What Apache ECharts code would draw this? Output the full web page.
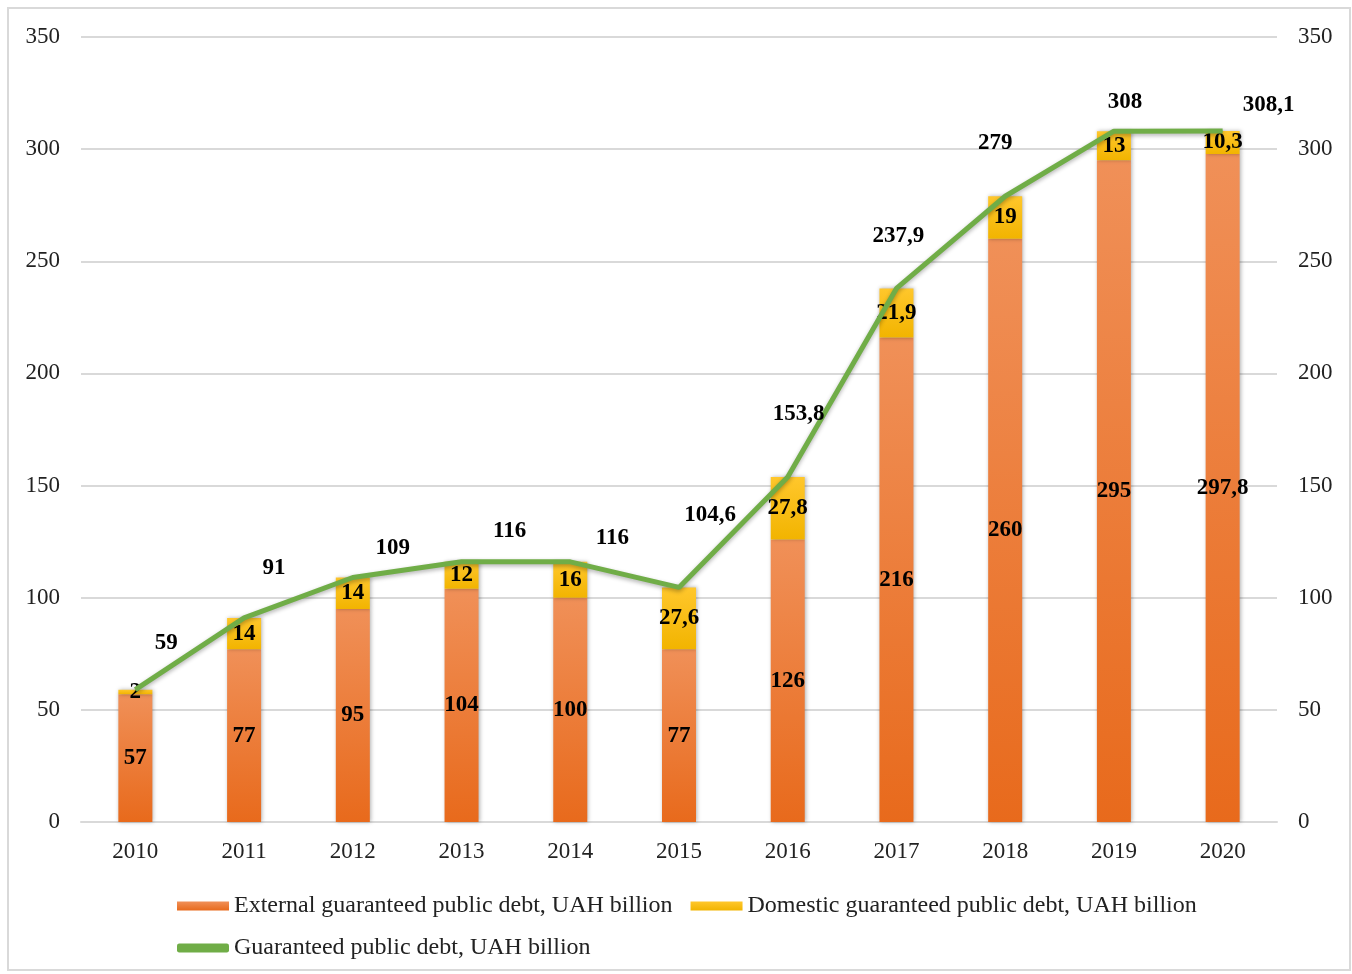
<!DOCTYPE html>
<html>
<head>
<meta charset="utf-8">
<script src="https://cdn.jsdelivr.net/npm/echarts@6/dist/echarts.min.js"></script>
<style>
  html, body { margin: 0; padding: 0; background: #fff; }
  #chart { width: 1352px; height: 974px; }
</style>
</head>
<body>
<div id="chart"></div>
<script>
const years = ['2010', '2011', '2012', '2013', '2014', '2015', '2016', '2017', '2018', '2019', '2020']
const externalDebt = [57, 77, 95, 104, 100, 77, 126, 216, 260, 295, 297.8]
const domesticDebt = [2, 14, 14, 12, 16, 27.6, 27.8, 21.9, 19, 13, 10.3]
const totalDebt = [59, 91, 109, 116, 116, 104.6, 153.8, 237.9, 279, 308, 308.1]

// nudges for the total labels so they sit where the original put them
const totalLabelShift = [[31, -47], [30, -50], [40, -29], [48, -31], [42, -24], [31, -72],
  [11, -63], [2, -52], [-10, -53], [11, -29], [46, -26]]

const serif = '"Liberation Serif", "Times New Roman", serif'
const fmt = v => String(v).replace('.', ',')

const chart = echarts.init(document.getElementById('chart'))

const valueLabel = {
  show: true,
  position: 'inside',
  color: '#000',
  fontFamily: serif,
  fontWeight: 'bold',
  fontSize: 23,
  formatter: p => fmt(p.value)
}

const yAxisBase = {
  type: 'value',
  min: 0,
  max: 350,
  interval: 50,
  axisLine: { show: false },
  axisTick: { show: false },
  splitLine: { lineStyle: { color: '#d9d9d9', width: 2 } },
  axisLabel: { color: '#222', fontFamily: serif, fontSize: 23, margin: 21 }
}

const option = {
  backgroundColor: '#fff',
  animation: false,
  graphic: [{
    type: 'rect',
    shape: { x: 8, y: 8, width: 1342, height: 962 },
    style: { fill: 'none', stroke: '#d9d9d9', lineWidth: 2 },
    silent: true
  }],
  legend: {
    left: 172,
    top: 889,
    width: 1080,
    itemGap: 18,
    itemWidth: 52,
    itemHeight: 9,
    textStyle: { color: '#222', fontFamily: serif, fontSize: 24 },
    data: [
      { name: 'External guaranteed public debt, UAH billion', icon: 'rect' },
      { name: 'Domestic guaranteed public debt, UAH billion', icon: 'rect' },
      { name: 'Guaranteed public debt, UAH billion', icon: 'roundRect', itemStyle: { color: '#70AD47' } }
    ]
  },
  grid: { left: 81, right: 75, top: 37, bottom: 152 },
  xAxis: {
    type: 'category',
    data: years,
    axisLine: { lineStyle: { color: '#d9d9d9', width: 2 } },
    axisTick: { show: false },
    axisLabel: { color: '#222', fontFamily: serif, fontSize: 23, margin: 18 }
  },
  yAxis: [
    Object.assign({}, yAxisBase, { position: 'left' }),
    Object.assign({}, yAxisBase, { position: 'right', splitLine: { show: false } })
  ],
  series: [
    {
      name: 'External guaranteed public debt, UAH billion',
      type: 'bar',
      stack: 'debt',
      barWidth: 34,
      data: externalDebt,
      itemStyle: {
        color: new echarts.graphic.LinearGradient(0, 0, 0, 1, [
          { offset: 0, color: '#F09058' },
          { offset: 1, color: '#E86A1C' }
        ]),
        shadowColor: 'rgba(0,0,0,0.3)',
        shadowBlur: 4,
        shadowOffsetX: 1
      },
      label: valueLabel
    },
    {
      name: 'Domestic guaranteed public debt, UAH billion',
      type: 'bar',
      stack: 'debt',
      barWidth: 34,
      data: domesticDebt,
      itemStyle: {
        color: new echarts.graphic.LinearGradient(0, 0, 0, 1, [
          { offset: 0, color: '#FFC72C' },
          { offset: 1, color: '#F2B400' }
        ]),
        shadowColor: 'rgba(0,0,0,0.3)',
        shadowBlur: 4,
        shadowOffsetX: 1
      },
      label: valueLabel
    },
    {
      name: 'Guaranteed public debt, UAH billion',
      type: 'line',
      z: 5,
      data: totalDebt.map((v, i) => ({
        value: v,
        label: { offset: totalLabelShift[i] }
      })),
      symbol: 'circle',
      symbolSize: 1,
      itemStyle: { color: '#70AD47' },
      lineStyle: {
        color: '#70AD47',
        width: 5,
        shadowColor: 'rgba(0,0,0,0.3)',
        shadowBlur: 4,
        shadowOffsetY: 2
      },
      label: {
        show: true,
        position: 'inside',
        color: '#000',
        fontFamily: serif,
        fontWeight: 'bold',
        fontSize: 23,
        formatter: p => fmt(p.value)
      }
    }
  ]
}

chart.setOption(option)
window.addEventListener('resize', () => chart.resize())
</script>
</body>
</html>
